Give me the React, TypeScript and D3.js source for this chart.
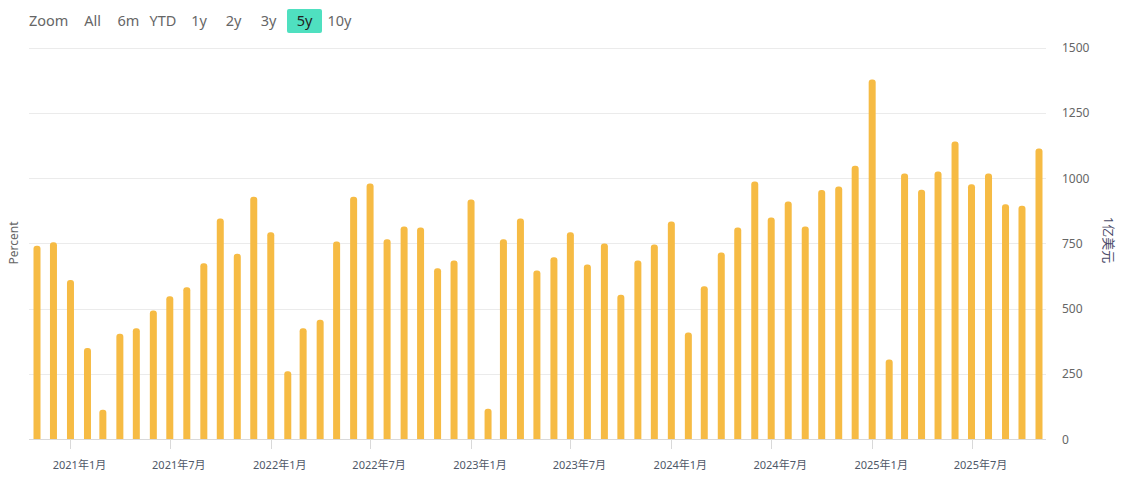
import React from "react";
import * as d3 from "d3";

const months: string[] = [
  "2020-11","2020-12","2021-01","2021-02","2021-03","2021-04","2021-05","2021-06","2021-07","2021-08","2021-09","2021-10",
  "2021-11","2021-12","2022-01","2022-02","2022-03","2022-04","2022-05","2022-06","2022-07","2022-08","2022-09","2022-10",
  "2022-11","2022-12","2023-01","2023-02","2023-03","2023-04","2023-05","2023-06","2023-07","2023-08","2023-09","2023-10",
  "2023-11","2023-12","2024-01","2024-02","2024-03","2024-04","2024-05","2024-06","2024-07","2024-08","2024-09","2024-10",
  "2024-11","2024-12","2025-01","2025-02","2025-03","2025-04","2025-05","2025-06","2025-07","2025-08","2025-09","2025-10",
  "2025-11",
];
const values: number[] = [
  740, 754, 609, 349, 112, 403, 424, 492, 547, 581, 673, 845,
  710, 928, 792, 260, 424, 457, 757, 928, 979, 765, 814, 810,
  654, 684, 918, 116, 765, 845, 646, 696, 792, 669, 749, 553,
  684, 745, 833, 408, 585, 715, 810, 987, 849, 910, 814, 954,
  967, 1047, 1377, 305, 1017, 955, 1025, 1140, 976, 1017, 899, 894,
  1113,
];
const yTicks: number[] = [0, 250, 500, 750, 1000, 1250, 1500];
const rangeButtons: string[] = ["All", "6m", "YTD", "1y", "2y", "3y", "5y", "10y"];
const selectedRange = "5y";

const W = 1127;
const H = 482;
const plotLeft = 29;
const plotRight = 1046;
const plotTop = 47.5;
const plotBottom = 439;

export default function App() {
  const parse = d3.timeParse("%Y-%m");
  const dates = months.map((m) => parse(m) as Date);
  const x = d3.scaleTime().domain([dates[0], dates[dates.length - 1]]).range([37, 1039]);
  const y = d3.scaleLinear().domain([0, 1500]).range([plotBottom, plotTop]);
  const xTicks = d3.timeMonth
    .range(dates[0], dates[dates.length - 1])
    .filter((d) => d.getMonth() === 0 || d.getMonth() === 6);

  const barW = 7;
  const r = 3;
  const barPath = (cx: number, top: number, bottom: number) => {
    const l = cx - barW / 2;
    const rr = l + barW;
    return `M${l},${bottom}V${top + r}Q${l},${top} ${l + r},${top}H${rr - r}Q${rr},${top} ${rr},${top + r}V${bottom}Z`;
  };

  const font = "'Noto Sans', 'Noto Sans CJK SC', sans-serif";

  const btnX: Record<string, number> = { All: 92.5, "6m": 128.5, YTD: 163, "1y": 199, "2y": 233.5, "3y": 268.5, "5y": 304.5, "10y": 339.5 };

  return (
    <svg width={W} height={H} style={{ position: "absolute", left: 0, top: 0, fontFamily: font }}>
      <rect x={0} y={0} width={W} height={H} fill="#ffffff" />
      {/* range selector */}
      <text x={29} y={26} fontSize={14.5} fill="#666666">Zoom</text>
      {rangeButtons.map((b) => (
        <g key={b}>
          {b === selectedRange && (
            <rect x={btnX[b] - 17.5} y={9} width={35} height={24} rx={2} fill="#4fe0c0" />
          )}
          <text x={btnX[b]} y={26} fontSize={14.5} textAnchor="middle" fill={b === selectedRange ? "#222222" : "#666666"}>
            {b}
          </text>
        </g>
      ))}
      {/* gridlines */}
      {yTicks.map((t) => (
        <line key={t} x1={plotLeft} x2={plotRight} y1={Math.round(y(t)) + 0.5} y2={Math.round(y(t)) + 0.5} stroke="#ebebeb" strokeWidth={1.2} />
      ))}
      {/* right axis labels */}
      {yTicks.map((t) => (
        <text key={"l" + t} x={1062} y={y(t) + 4.5} fontSize={12} fill="#666666">{t}</text>
      ))}
      <text transform={`translate(1104,240) rotate(90)`} fontSize={13} fill="#4a4a68" textAnchor="middle">1亿美元</text>
      <text transform={`translate(18,243) rotate(-90)`} fontSize={12} fill="#666666" textAnchor="middle">Percent</text>
      {/* bars */}
      {values.map((v, i) => (
        <path key={i} d={barPath(x(dates[i]), y(v), plotBottom)} fill="#f6bb44" />
      ))}
      {/* x axis */}
      <line x1={plotLeft} x2={plotRight} y1={plotBottom + 0.5} y2={plotBottom + 0.5} stroke="#d9d9d9" strokeWidth={1} />
      {xTicks.map((t) => (
        <g key={t.toISOString()}>
          <line x1={Math.round(x(t)) + 0.5} x2={Math.round(x(t)) + 0.5} y1={plotBottom} y2={plotBottom + 10} stroke="#d9d9d9" />
          <text x={x(t) + 9} y={469} fontSize={11} textAnchor="middle" fill="#4f5868">
            {`${t.getFullYear()}年${t.getMonth() + 1}月`}
          </text>
        </g>
      ))}
    </svg>
  );
}
